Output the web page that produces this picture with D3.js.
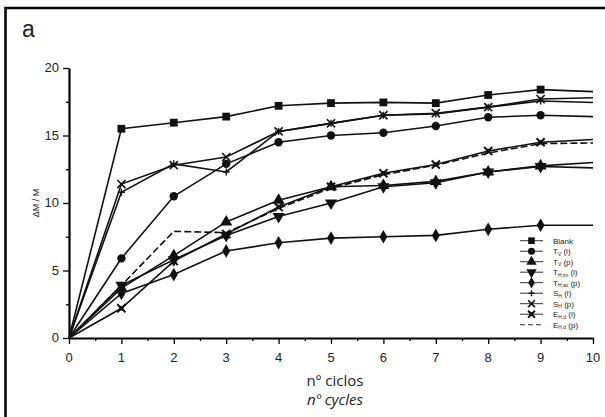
<!DOCTYPE html>
<html>
<head>
<meta charset="utf-8">
<script src="https://cdn.jsdelivr.net/npm/d3@7"></script>
<style>
  body { margin: 0; background: #fff; }
  svg { display: block; }
  text { fill: #222; }
</style>
</head>
<body>
<svg id="chart" width="605" height="417"></svg>
<script>
// Values
const cycles = [0, 1, 2, 3, 4, 5, 6, 7, 8, 9, 10];
const blank = [0, 15.5, 15.95, 16.4, 17.2, 17.4, 17.45, 17.4, 18.0, 18.4, 18.25];
const tvI   = [0, 5.9, 10.5, 12.9, 14.5, 15.0, 15.2, 15.7, 16.35, 16.5, 16.4];
const tvP   = [0, 3.7, 6.1, 8.6, 10.2, 11.2, 11.3, 11.6, 12.3, 12.75, 13.0];
const thI   = [0, 3.9, 5.8, 7.6, 9.0, 10.0, 11.2, 11.5, 12.3, 12.7, 12.6];
const tP    = [0, 3.3, 4.7, 6.45, 7.05, 7.4, 7.5, 7.6, 8.05, 8.35, 8.35];
const sI    = [0, 10.8, 12.9, 12.3, 15.3, 15.9, 16.5, 16.6, 17.1, 17.55, 17.45];
const sP    = [0, 11.4, 12.8, 13.4, 15.3, 15.9, 16.5, 16.65, 17.1, 17.7, 17.8];
const eI    = [0, 2.2, 5.7, 7.7, 9.7, 11.2, 12.2, 12.85, 13.85, 14.5, 14.7];
const eP    = [0, 3.9, 7.9, 7.8, 9.6, 11.1, 12.1, 12.8, 13.7, 14.4, 14.45];

const xTicks = [0, 1, 2, 3, 4, 5, 6, 7, 8, 9, 10];
const yTicks = [0, 5, 10, 15, 20];

// label pieces: [main, subscript, suffix]
const series = [
  { name: ['Blank', '', ''],  values: blank, marker: 'square' },
  { name: ['T', 'V', ' (i)'],  values: tvI, marker: 'circle' },
  { name: ['T', 'V', ' (p)'],  values: tvP, marker: 'triangle' },
  { name: ['T', 'H,im', ' (i)'], values: thI, marker: 'triangleDown' },
  { name: ['T', 'H,ac', ' (p)'], values: tP, marker: 'diamond' },
  { name: ['S', 'H', ' (i)'],  values: sI, marker: 'plus' },
  { name: ['S', 'H', ' (p)'],  values: sP, marker: 'cross' },
  { name: ['E', 'H,d', ' (i)'], values: eI, marker: 'star' },
  { name: ['E', 'H,d', ' (p)'], values: eP, marker: 'none', dashed: true }
];

const svg = d3.select('#chart');

// frame (top and left edges visible)
svg.append('line').attr('x1', 5).attr('x2', 605).attr('y1', 8).attr('y2', 8)
  .attr('stroke', '#000').attr('stroke-width', 2.5);
svg.append('line').attr('x1', 5.5).attr('x2', 5.5).attr('y1', 7).attr('y2', 417)
  .attr('stroke', '#000').attr('stroke-width', 2.5);

svg.append('text').attr('x', 22).attr('y', 37)
  .style('font', '23px "Liberation Sans", Arial, sans-serif')
  .text('a');

const x = d3.scaleLinear().domain([0, 10]).range([69, 593]);
const y = d3.scaleLinear().domain([0, 20]).range([338, 68]);

// axes
const xAxis = svg.append('g').attr('transform', 'translate(0,338)')
  .call(d3.axisBottom(x).tickValues(d3.range(0, 10.01, 0.5)).tickSize(0).tickFormat(''));
xAxis.select('.domain').attr('stroke-width', 2.2);
xAxis.selectAll('.tick line').attr('y2', d => Number.isInteger(d) ? 6 : 3).attr('stroke-width', 1.3);
svg.append('g').selectAll('text').data(xTicks).join('text')
  .attr('x', d => x(d)).attr('y', 362)
  .attr('text-anchor', 'middle')
  .style('font', '13px "Liberation Sans", Arial, sans-serif')
  .text(d => d);

const yAxis = svg.append('g').attr('transform', 'translate(69,0)')
  .call(d3.axisLeft(y).tickValues(d3.range(0, 20.01, 2.5)).tickSize(0).tickFormat(''));
yAxis.select('.domain').attr('stroke-width', 2.2);
yAxis.selectAll('.tick line').attr('x2', d => d % 5 === 0 ? -6 : -3).attr('stroke-width', 1.3);
svg.append('g').selectAll('text').data(yTicks).join('text')
  .attr('x', 59).attr('y', d => y(d) + 4)
  .attr('text-anchor', 'end')
  .style('font', '13px "Liberation Sans", Arial, sans-serif')
  .text(d => d);

svg.append('text')
  .attr('transform', 'translate(39,203) rotate(-90)')
  .attr('text-anchor', 'middle')
  .style('font', '9px "Liberation Sans", Arial, sans-serif')
  .text('ΔM / M');

svg.append('text').attr('x', 335).attr('y', 386).attr('text-anchor', 'middle')
  .style('font', '15px "Open Sans", sans-serif').text('nº ciclos');
svg.append('text').attr('x', 335).attr('y', 405).attr('text-anchor', 'middle')
  .style('font', 'italic 15px "Open Sans", sans-serif').text('nº cycles');

// marker drawing
function drawMarker(sel, type, s) {
  const k = s || 1;
  if (type === 'square') {
    sel.append('rect').attr('x', -3.9 * k).attr('y', -3.9 * k)
      .attr('width', 7.8 * k).attr('height', 7.8 * k).attr('fill', '#111');
  } else if (type === 'circle') {
    sel.append('circle').attr('r', 4.2 * k).attr('fill', '#111');
  } else if (type === 'triangle') {
    sel.append('path').attr('d', d3.symbol(d3.symbolTriangle, 64 * k * k)).attr('fill', '#111');
  } else if (type === 'triangleDown') {
    sel.append('path').attr('d', d3.symbol(d3.symbolTriangle, 64 * k * k))
      .attr('transform', 'rotate(180)').attr('fill', '#111');
  } else if (type === 'diamond') {
    sel.append('path').attr('d', d3.symbol(d3.symbolDiamond, 54 * k * k)).attr('fill', '#111');
  } else if (type === 'plus') {
    sel.append('path').attr('d', `M${-3.5 * k},0H${3.5 * k}M0,${-3.5 * k}V${3.5 * k}`)
      .attr('stroke', '#111').attr('stroke-width', 1.4);
  } else if (type === 'cross') {
    sel.append('path').attr('d', d3.symbol(d3.symbolX, 45 * k * k))
      .attr('stroke', '#111').attr('stroke-width', 1.6).attr('fill', 'none');
  } else if (type === 'star') {
    sel.append('path').attr('d', d3.symbol(d3.symbolX, 45 * k * k))
      .attr('stroke', '#111').attr('stroke-width', 2).attr('fill', 'none');
    sel.append('rect').attr('x', -2.2 * k).attr('y', -2.2 * k)
      .attr('width', 4.4 * k).attr('height', 4.4 * k).attr('fill', '#111');
  }
}

const line = d3.line().x((d, i) => x(cycles[i])).y(d => y(d));
const plot = svg.append('g');

series.forEach(s => {
  plot.append('path')
    .attr('d', line(s.values))
    .attr('fill', 'none')
    .attr('stroke', '#111')
    .attr('stroke-width', 1.6)
    .attr('stroke-dasharray', s.dashed ? '7,3' : null);
});

series.forEach(s => {
  if (s.marker === 'none') return;
  s.values.forEach((v, i) => {
    if (i === 0 || i === 10) return;
    const g = plot.append('g').attr('transform', `translate(${x(cycles[i])},${y(v)})`);
    drawMarker(g, s.marker);
  });
});

// legend
const legend = svg.append('g');
series.forEach((s, i) => {
  const ly = 240.7 + i * 10.5;
  const g = legend.append('g').attr('transform', `translate(0,${ly})`);
  g.append('line').attr('x1', 520).attr('x2', 543).attr('y1', 0).attr('y2', 0)
    .attr('stroke', '#333').attr('stroke-width', 1)
    .attr('stroke-dasharray', s.dashed ? '5,3' : null);
  const m = g.append('g').attr('transform', 'translate(531.5,0)');
  drawMarker(m, s.marker, 0.85);
  const t = g.append('text').attr('x', 553).attr('y', 3)
    .style('font', '8px "Liberation Sans", Arial, sans-serif');
  t.append('tspan').text(s.name[0]);
  if (s.name[1]) t.append('tspan').attr('dy', 1.5).style('font-size', '5px').text(s.name[1]);
  t.append('tspan').attr('dy', s.name[1] ? -1.5 : 0).text(s.name[2]);
});
</script>
</body>
</html>
